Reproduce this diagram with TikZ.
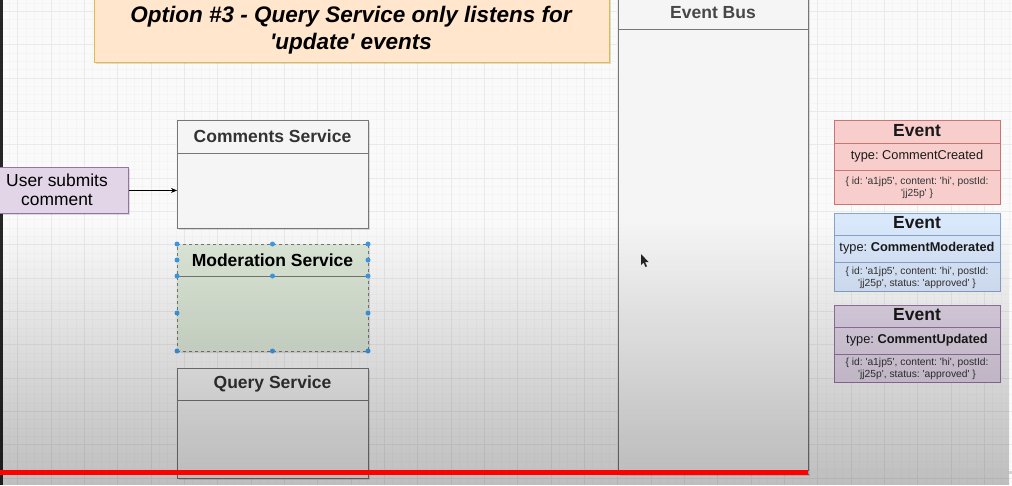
\documentclass[tikz,border=0pt]{standalone}
\usepackage{fontspec}
\setmainfont{Liberation Sans}
\usetikzlibrary{fadings,arrows.meta}
\definecolor{gridminor}{HTML}{F5F5F5}
\definecolor{gridmajor}{HTML}{EAEAEA}
\definecolor{titlefill}{HTML}{FFE6CC}
\definecolor{titledraw}{HTML}{D79B00}
\definecolor{svcfill}{HTML}{F5F5F5}
\definecolor{svcdraw}{HTML}{777777}
\definecolor{svctext}{HTML}{333333}
\definecolor{modfill}{HTML}{DDE8D8}
\definecolor{purplefill}{HTML}{E1D5E7}
\definecolor{purpledraw}{HTML}{9673A6}
\definecolor{redfill}{HTML}{F8CECC}
\definecolor{reddraw}{HTML}{B85450}
\definecolor{bluefill}{HTML}{DAE8FC}
\definecolor{bluedraw}{HTML}{6C8EBF}
\definecolor{handle}{HTML}{3D9BE9}
\newcommand{\sq}{\textquotesingle}
\tikzfading[name=fadedown, top color=transparent!100, bottom color=transparent!0]
\tikzset{
  box/.style={draw=svcdraw, fill=svcfill, line width=0.9pt, rectangle, inner sep=0pt, anchor=north west},
  shadowed/.style={preaction={fill=black, opacity=0.12, transform canvas={xshift=2pt, yshift=-2pt}}},
  svctitle/.style={font=\fontsize{17.5}{20}\selectfont\bfseries, text=svctext, inner sep=0pt},
  evtitle/.style={font=\fontsize{17.5}{20}\selectfont\bfseries, text=black!90, inner sep=0pt},
  evtype/.style={font=\fontsize{12.8}{14}\selectfont, text=black!90, inner sep=0pt},
  evpay/.style={font=\fontsize{10.3}{11.8}\selectfont, text=black!80, inner sep=0pt, align=center},
  dot/.style={circle, fill=handle, inner sep=0pt, minimum size=5pt},
}
\begin{document}
\frenchspacing
\begin{tikzpicture}[x=1pt,y=-1pt]
\useasboundingbox (0,0) rectangle (1012,485);
% background grid
\fill[white!98!black] (0,0) rectangle (1012,485);
\foreach \i in {0,...,122} {
  \draw[gridminor, line width=0.5pt] ({1.0+8.3333*\i},0) -- ({1.0+8.3333*\i},485);
}
\foreach \i in {0,...,59} {
  \draw[gridminor, line width=0.5pt] (0,{3.0+8.3333*\i}) -- (1012,{3.0+8.3333*\i});
}
\foreach \i in {0,...,30} {
  \draw[gridmajor, line width=0.6pt] ({17.7+33.333*\i},0) -- ({17.7+33.333*\i},485);
}
\foreach \i in {0,...,14} {
  \draw[gridmajor, line width=0.6pt] (0,{11.3+33.333*\i}) -- (1012,{11.3+33.333*\i});
}
\fill[black!85] (0,0) rectangle (2.5,485);

% title
\node[box, draw=titledraw!70, fill=titlefill, shadowed, minimum width=515pt, minimum height=66pt] (title) at (94,-4) {};
\node[font=\fontsize{22.5}{26}\selectfont\bfseries\itshape, inner sep=0pt] (t1) at (351,17) {Option \#3 - Query Service only listens for};
\node[font=\fontsize{22.5}{26}\selectfont\bfseries\itshape, inner sep=0pt] (t2) at (351,44) {\sq update\sq\ events};

% event bus
\node[box, shadowed, minimum width=190pt, minimum height=477pt] (bus) at (618,-3) {};
\coordinate (busl) at (618,29);
\draw[svcdraw, line width=0.9pt] (busl) -- (busl -| bus.east);
\node[svctitle, text=svctext!90] (bustitle) at (713,13) {Event Bus};

% comments service
\node[box, shadowed, minimum width=191pt, minimum height=108pt] (cs) at (177,120) {};
\coordinate (csl) at (177,153);
\draw[svcdraw, line width=0.9pt] (csl) -- (csl -| cs.east);
\node[svctitle] (cst) at (272.5,136) {Comments Service};

% user submits comment
\node[box, draw=purpledraw, fill=purplefill, shadowed, minimum width=133pt, minimum height=46pt] (user) at (-5,167) {};
\node[font=\fontsize{17.4}{19.5}\selectfont, align=center, inner sep=0pt] (usert) at (57,190) {User submits\\comment};
\draw[-{Stealth[length=6pt,width=5pt]}, line width=0.7pt] (user.east) -- (user.east -| cs.west);

% moderation service
\node[box, fill=modfill, draw=svcdraw, dashed, shadowed, minimum width=191pt, minimum height=107pt] (ms) at (177,244) {};
\coordinate (msl) at (177,276);
\draw[svcdraw, line width=0.9pt] (msl) -- (msl -| ms.east);
\node[svctitle, text=black] (mst) at (272.5,260) {Moderation Service};

% query service
\node[box, shadowed, minimum width=191pt, minimum height=110pt] (qs) at (177,368) {};
\coordinate (qsl) at (177,400);
\draw[svcdraw, line width=0.9pt] (qsl) -- (qsl -| qs.east);
\node[svctitle] (qst) at (272.5,384) {Query Service};

% event 1
\node[box, draw=reddraw!80, fill=redfill, minimum width=166pt, minimum height=84pt] (e1) at (834,120) {};
\coordinate (e1a) at (834,143); \coordinate (e1b) at (834,170);
\draw[reddraw!80, line width=0.9pt] (e1a) -- (e1a -| e1.east) (e1b) -- (e1b -| e1.east);
\node[evtitle] (e1t) at (917,131) {Event};
\node[evtype] (e1y) at (917,156.5) {type: CommentCreated};
\node[evpay] (e1p) at (917,187.5) {\{ id: \sq a1jp5\sq, content: \sq hi\sq, postId:\\\sq jj25p\sq\ \}};

% event 2
\node[box, draw=bluedraw!80, fill=bluefill, minimum width=166pt, minimum height=78pt] (e2) at (834,213) {};
\coordinate (e2a) at (834,235); \coordinate (e2b) at (834,262);
\draw[bluedraw!80, line width=0.9pt] (e2a) -- (e2a -| e2.east) (e2b) -- (e2b -| e2.east);
\node[evtitle] (e2t) at (917,223) {Event};
\node[evtype] (e2y) at (917,248.5) {type: \textbf{CommentModerated}};
\node[evpay] (e2p) at (917,277.5) {\{ id: \sq a1jp5\sq, content: \sq hi\sq, postId:\\\sq jj25p\sq, status: \sq approved\sq\ \}};

% event 3
\node[box, draw=purpledraw, fill=purplefill, minimum width=166pt, minimum height=77pt] (e3) at (834,305) {};
\coordinate (e3a) at (834,327); \coordinate (e3b) at (834,354);
\draw[purpledraw, line width=0.9pt] (e3a) -- (e3a -| e3.east) (e3b) -- (e3b -| e3.east);
\node[evtitle] (e3t) at (917,315) {Event};
\node[evtype] (e3y) at (917,340.5) {type: \textbf{CommentUpdated}};
\node[evpay] (e3p) at (917,369) {\{ id: \sq a1jp5\sq, content: \sq hi\sq, postId:\\\sq jj25p\sq, status: \sq approved\sq\ \}};

% selection handles on moderation service
\foreach \p in {(177,244),(272.5,244),(368,244),(177,260),(368,260),(177,276),(272.5,276),(368,276),(177,313),(368,313),(177,351),(272.5,351),(368,351)}
  \node[dot] at \p {};

% mouse cursor
\fill[black!85] (641,254) -- (641,265) -- (643.5,262.5) -- (645.5,267) -- (647,266.3) -- (645,262) -- (648.5,262) -- cycle;

% video darkening toward the bottom
\fill[black, opacity=0.24, path fading=fadedown] (0,220) rectangle (1012,485);

% progress bar
\fill[black!25, opacity=0.6] (808,471) rectangle (1012,474);
\fill[red] (0,470) rectangle (808,475);
\end{tikzpicture}
\end{document}
